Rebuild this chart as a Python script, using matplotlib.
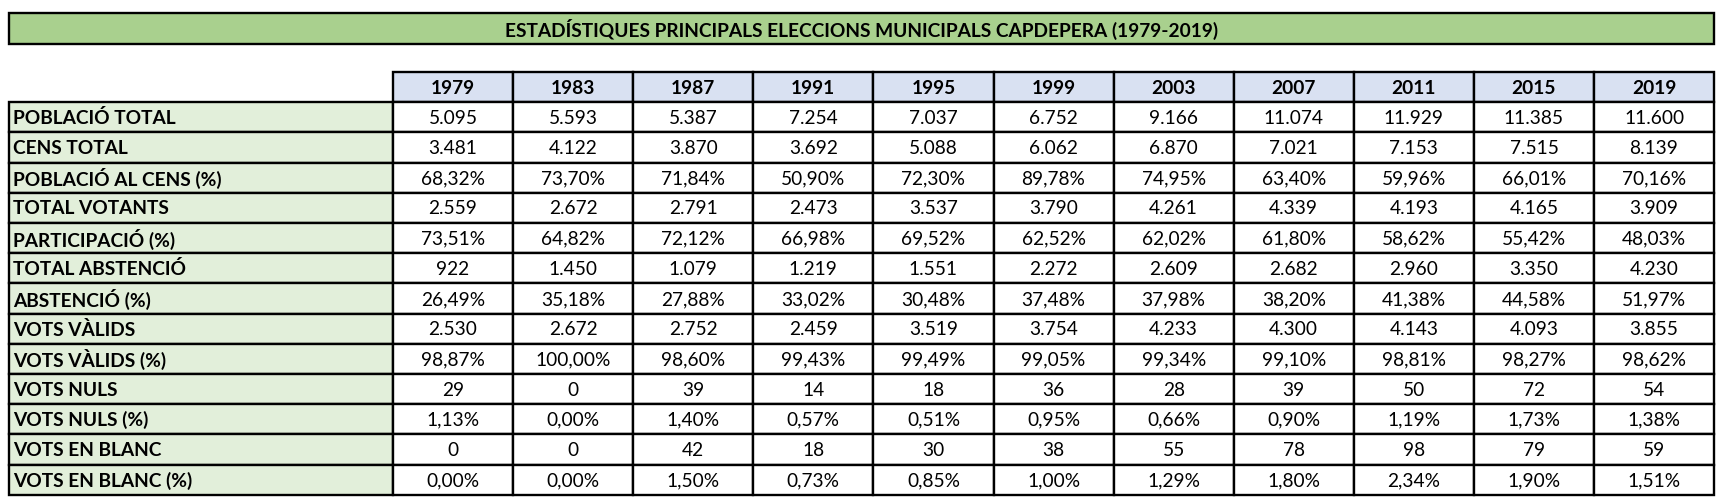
import matplotlib.pyplot as plt
from matplotlib.patches import Rectangle

# DATA
title = "ESTADÍSTIQUES PRINCIPALS ELECCIONS MUNICIPALS CAPDEPERA (1979-2019)"
years = [1979, 1983, 1987, 1991, 1995, 1999, 2003, 2007, 2011, 2015, 2019]

poblacio_total = [5095, 5593, 5387, 7254, 7037, 6752, 9166, 11074, 11929, 11385, 11600]
cens_total = [3481, 4122, 3870, 3692, 5088, 6062, 6870, 7021, 7153, 7515, 8139]
poblacio_cens_pct = [68.32, 73.70, 71.84, 50.90, 72.30, 89.78, 74.95, 63.40, 59.96, 66.01, 70.16]
total_votants = [2559, 2672, 2791, 2473, 3537, 3790, 4261, 4339, 4193, 4165, 3909]
participacio_pct = [73.51, 64.82, 72.12, 66.98, 69.52, 62.52, 62.02, 61.80, 58.62, 55.42, 48.03]
total_abstencio = [922, 1450, 1079, 1219, 1551, 2272, 2609, 2682, 2960, 3350, 4230]
abstencio_pct = [26.49, 35.18, 27.88, 33.02, 30.48, 37.48, 37.98, 38.20, 41.38, 44.58, 51.97]
vots_valids = [2530, 2672, 2752, 2459, 3519, 3754, 4233, 4300, 4143, 4093, 3855]
vots_valids_pct = [98.87, 100.00, 98.60, 99.43, 99.49, 99.05, 99.34, 99.10, 98.81, 98.27, 98.62]
vots_nuls = [29, 0, 39, 14, 18, 36, 28, 39, 50, 72, 54]
vots_nuls_pct = [1.13, 0.00, 1.40, 0.57, 0.51, 0.95, 0.66, 0.90, 1.19, 1.73, 1.38]
vots_blanc = [0, 0, 42, 18, 30, 38, 55, 78, 98, 79, 59]
vots_blanc_pct = [0.00, 0.00, 1.50, 0.73, 0.85, 1.00, 1.29, 1.80, 2.34, 1.90, 1.51]

rows = [
    ("POBLACIÓ TOTAL", poblacio_total, "int"),
    ("CENS TOTAL", cens_total, "int"),
    ("POBLACIÓ AL CENS (%)", poblacio_cens_pct, "pct"),
    ("TOTAL VOTANTS", total_votants, "int"),
    ("PARTICIPACIÓ (%)", participacio_pct, "pct"),
    ("TOTAL ABSTENCIÓ", total_abstencio, "int"),
    ("ABSTENCIÓ (%)", abstencio_pct, "pct"),
    ("VOTS VÀLIDS", vots_valids, "int"),
    ("VOTS VÀLIDS (%)", vots_valids_pct, "pct"),
    ("VOTS NULS", vots_nuls, "int"),
    ("VOTS NULS (%)", vots_nuls_pct, "pct"),
    ("VOTS EN BLANC", vots_blanc, "int"),
    ("VOTS EN BLANC (%)", vots_blanc_pct, "pct"),
]


def fmt(v, kind):
    # catalan style: dot for thousands, comma for decimals
    if kind == "int":
        return f"{v:,}".replace(",", ".")
    return f"{v:.2f}".replace(".", ",") + "%"


# LAYOUT (pixels)
W, H = 1721, 504
left, label_w, col_w = 9, 384, 120.1
title_top, title_h = 13, 31
head_top, row_h = 72, 30.2
lw = 1.7
fs = 13.8

green = "#A9D08E"
light_green = "#E2EFDA"
blue = "#D9E1F2"

plt.rcParams['font.family'] = ['Lato', 'DejaVu Sans']

fig = plt.figure(figsize=(W / 100, H / 100), dpi=100)
ax = fig.add_axes([0, 0, 1, 1])
ax.set_xlim(0, W)
ax.set_ylim(H, 0)
ax.axis("off")

table_right = left + label_w + col_w * len(years)

# title bar
ax.add_patch(Rectangle((left, title_top), table_right - left, title_h,
                       facecolor=green, edgecolor="black", lw=lw))
ax.text((left + table_right) / 2, title_top + title_h / 2 + 1, title,
        ha="center", va="center", fontsize=fs, fontweight="bold")


def cell(x, y, w, h, color):
    ax.add_patch(Rectangle((x, y), w, h, facecolor=color, edgecolor="black", lw=lw))


# header row
for j, yr in enumerate(years):
    x = left + label_w + j * col_w
    cell(x, head_top, col_w, row_h, blue)
    ax.text(x + col_w / 2, head_top + row_h / 2 + 1, str(yr),
            ha="center", va="center", fontsize=fs, fontweight="bold")

# body
for i, (name, vals, kind) in enumerate(rows):
    y = head_top + (i + 1) * row_h
    cell(left, y, label_w, row_h, light_green)
    ax.text(left + 4, y + row_h / 2 + 1, name, ha="left", va="center",
            fontsize=fs, fontweight="bold")
    for j, v in enumerate(vals):
        x = left + label_w + j * col_w
        cell(x, y, col_w, row_h, "white")
        ax.text(x + col_w / 2, y + row_h / 2 + 1, fmt(v, kind),
                ha="center", va="center", fontsize=fs)

fig.savefig("out.png", dpi=100)
